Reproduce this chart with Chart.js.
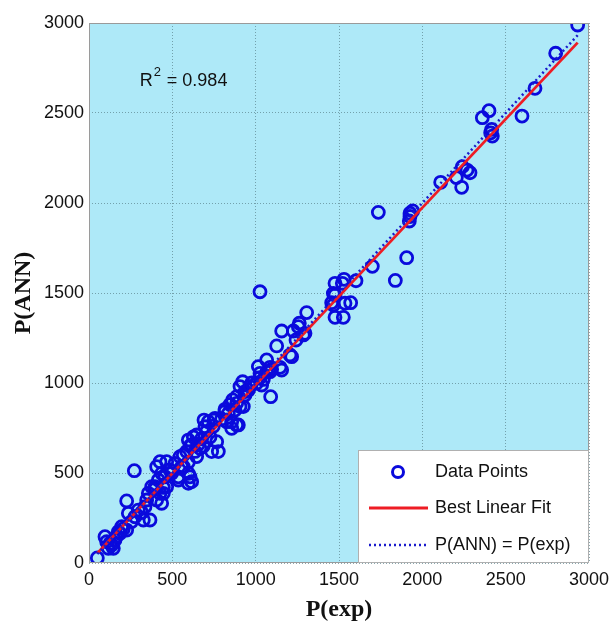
<!DOCTYPE html>
<html>
<head>
<meta charset="utf-8">
<script src="https://cdn.jsdelivr.net/npm/chart.js@4.4.1/dist/chart.umd.min.js"></script>
<style>
    html, body { margin: 0; padding: 0; background: #fff; }
    #wrap { width: 611px; height: 626px; }
</style>
</head>
<body>
<div id="wrap"><canvas id="c" width="611" height="626"></canvas></div>
<script>
const expVals = [
    50, 96, 116, 126, 146, 156, 136, 106, 176, 196, 226, 236, 226, 256, 276, 296, 326, 366, 336, 356,
    406, 426, 436, 376, 272, 406, 456, 496, 536, 596, 596, 556, 166, 186, 206, 316, 346, 396, 446, 416,
    436, 466, 396, 446, 486, 466, 426, 516, 546, 566, 536, 616, 606,
    586, 616, 596, 646, 666, 646, 696, 716, 756, 690, 750, 736, 776, 766, 826, 856, 896, 886, 856, 816,
    862, 886, 926, 906, 816, 886, 936, 906, 922, 936, 606, 626, 676, 706, 726, 636, 566, 596, 656, 686,
    746, 796, 836, 876, 846, 956, 976, 1016, 1026, 1036, 1090, 1096, 1156, 1006, 1046, 1066, 1026, 966,
    1026, 1086, 1146, 1126, 1156, 1216, 1226, 1242, 1262, 1296, 1306, 1256, 1286, 1066, 1206, 1086,
    1456, 1466, 1476, 1476, 1526, 1530, 1536, 1570, 1602, 1466, 1520, 1476, 1700, 1736, 1838, 1906,
    1922, 1926, 1926, 1942, 2110, 2204, 2236, 2240, 2268, 2286, 2360, 2400, 2410, 2416, 2420, 2598,
    2676, 2800, 2932
];
const annVals = [
    28, 146, 82, 110, 82, 128, 100, 118, 174, 202, 183, 276, 345, 230, 257, 294, 239, 239, 313, 387,
    350, 387, 332, 424, 513, 535, 479, 498, 461, 443, 498, 535, 150, 165, 190, 280, 350, 410, 420, 461,
    498, 424, 424, 387, 517, 563, 563, 554, 591, 535, 479, 452, 479,
    619, 656, 683, 711, 637, 591, 757, 785, 804, 794, 794, 619, 619, 674, 785, 748, 767, 767, 785, 854,
    906, 887, 869, 869, 841, 924, 933, 980, 1007, 952, 650, 700, 690, 730, 700, 620, 600, 560, 660, 650,
    760, 800, 830, 850, 880, 960, 1000, 1091, 1054, 989, 924, 1076, 1072, 1000, 1020, 1060, 1030, 980,
    1507, 1087, 1087, 1206, 1289, 1146, 1289, 1239, 1332, 1276, 1391, 1313, 1267, 1128, 1156, 1063,
    1446, 1498, 1554, 1365, 1365, 1576, 1443, 1446, 1568, 1433, 1554, 1489, 1648, 1948, 1570, 1696,
    1900, 1925, 1943, 1956, 2115, 2141, 2087, 2202, 2183, 2168, 2474, 2513, 2390, 2409, 2372, 2483,
    2637, 2832, 2989
];

// Best linear fit and the P(ANN) = P(exp) reference line
const fitX = [50, 2932];
const fitY = [55, 2891];
const idealX = [50, 2932];
const idealY = [50, 2932];

const r2Text = 'R² = 0.984';
const axisTicks = [0, 500, 1000, 1500, 2000, 2500, 3000];

const plotBg = '#aee9f8';
const gridColor = 'rgba(90, 130, 140, 0.7)';
const tickFont = { family: '"Liberation Sans", Arial, sans-serif', size: 18 };
const titleFont = { family: '"Liberation Serif", "Times New Roman", serif', size: 24, weight: 'bold' };

function toPoints(xs, ys) {
    return xs.map((x, i) => ({ x: x, y: ys[i] }));
}

const plotDecor = {
    id: 'plotDecor',
    beforeDraw(chart) {
        const { ctx, chartArea: a } = chart;
        ctx.save();
        ctx.fillStyle = plotBg;
        ctx.fillRect(a.left, a.top, a.right - a.left, a.bottom - a.top);
        ctx.restore();
    },
    afterDraw(chart) {
        const { ctx, chartArea: a, scales } = chart;
        ctx.save();

        // plot frame
        ctx.strokeStyle = '#9a9a9a';
        ctx.lineWidth = 1;
        ctx.strokeRect(a.left + 0.5, a.top + 0.5, a.right - a.left - 1, a.bottom - a.top - 1);

        // R^2 annotation
        ctx.fillStyle = '#111';
        ctx.font = '18px "Liberation Sans", Arial, sans-serif';
        ctx.textBaseline = 'middle';
        ctx.textAlign = 'left';
        const tx = scales.x.getPixelForValue(305);
        const ty = scales.y.getPixelForValue(2680);
        ctx.fillText('R', tx, ty);
        const rw = ctx.measureText('R').width;
        ctx.font = '13px "Liberation Sans", Arial, sans-serif';
        ctx.fillText('2', tx + rw + 1, ty - 8);
        ctx.font = '18px "Liberation Sans", Arial, sans-serif';
        ctx.fillText(r2Text.slice(2), tx + rw + 9, ty);

        // legend box (bottom right, inside plot)
        const w = 231, h = 113;
        const lx = a.right - w, ly = a.bottom - h;
        ctx.fillStyle = '#fff';
        ctx.fillRect(lx, ly, w, h);
        ctx.strokeStyle = '#b0b0b0';
        ctx.strokeRect(lx + 0.5, ly + 0.5, w - 1, h - 1);

        const ds = chart.data.datasets;
        const rows = [ly + 22, ly + 58, ly + 95];
        ctx.font = '18px "Liberation Sans", Arial, sans-serif';
        ctx.textBaseline = 'middle';

        // markers
        ctx.strokeStyle = ds[0].borderColor;
        ctx.lineWidth = 3;
        ctx.beginPath();
        ctx.arc(lx + 40, rows[0], 5.5, 0, Math.PI * 2);
        ctx.stroke();

        ctx.strokeStyle = ds[1].borderColor;
        ctx.lineWidth = 3;
        ctx.beginPath();
        ctx.moveTo(lx + 11, rows[1]);
        ctx.lineTo(lx + 70, rows[1]);
        ctx.stroke();

        ctx.strokeStyle = ds[2].borderColor;
        ctx.lineWidth = 2.5;
        ctx.setLineDash([2, 3]);
        ctx.beginPath();
        ctx.moveTo(lx + 11, rows[2]);
        ctx.lineTo(lx + 70, rows[2]);
        ctx.stroke();
        ctx.setLineDash([]);

        ctx.fillStyle = '#111';
        ds.forEach((d, i) => ctx.fillText(d.label, lx + 77, rows[i]));

        ctx.restore();
    }
};

new Chart(document.getElementById('c').getContext('2d'), {
    type: 'scatter',
    data: {
        datasets: [
            {
                label: 'Data Points',
                data: toPoints(expVals, annVals),
                borderColor: '#0a0adc',
                backgroundColor: 'rgba(0,0,0,0)',
                borderWidth: 2.8,
                pointRadius: 6,
                pointHoverRadius: 6,
                order: 3
            },
            {
                label: 'Best Linear Fit',
                type: 'line',
                data: toPoints(fitX, fitY),
                borderColor: '#ee1c24',
                borderWidth: 2.8,
                pointRadius: 0,
                fill: false,
                order: 2
            },
            {
                label: 'P(ANN) = P(exp)',
                type: 'line',
                data: toPoints(idealX, idealY),
                borderColor: '#1a1acc',
                borderWidth: 2.5,
                borderDash: [2, 3],
                pointRadius: 0,
                fill: false,
                order: 1
            }
        ]
    },
    options: {
        responsive: false,
        animation: false,
        events: [],
        layout: { padding: { top: 23, right: 22, left: 0, bottom: 0 } },
        plugins: {
            legend: { display: false },
            tooltip: { enabled: false }
        },
        scales: {
            x: {
                type: 'linear',
                min: 0,
                max: 3000,
                afterBuildTicks: (s) => { s.ticks = axisTicks.map(v => ({ value: v })); },
                afterFit: (s) => { s.height = 63; s.paddingLeft = 0; s.paddingRight = 0; },
                ticks: {
                    color: '#111',
                    font: tickFont,
                    padding: 6,
                    maxRotation: 0,
                    autoSkip: false,
                    callback: (v) => String(v)
                },
                grid: { color: gridColor, lineWidth: 1, drawTicks: false },
                border: { display: false, dash: [1, 2] },
                title: { display: true, text: 'P(exp)', color: '#111', font: titleFont, padding: { top: 0, bottom: 2 } }
            },
            y: {
                type: 'linear',
                min: 0,
                max: 3000,
                afterBuildTicks: (s) => { s.ticks = axisTicks.map(v => ({ value: v })); },
                afterFit: (s) => { s.width = 89; s.paddingTop = 0; s.paddingBottom = 0; },
                ticks: {
                    color: '#111',
                    font: tickFont,
                    padding: 5,
                    autoSkip: false,
                    callback: (v) => String(v)
                },
                grid: { color: gridColor, lineWidth: 1, drawTicks: false },
                border: { display: false, dash: [1, 2] },
                title: { display: true, text: 'P(ANN)', color: '#111', font: titleFont, padding: { top: 9, bottom: 0 } }
            }
        }
    },
    plugins: [plotDecor]
});
</script>
</body>
</html>
